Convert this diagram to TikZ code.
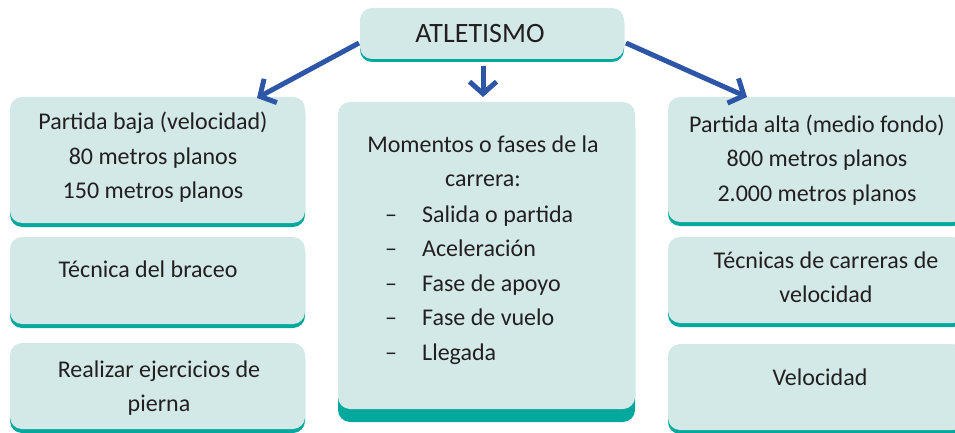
\documentclass[tikz,border=0pt]{standalone}
\usepackage{fontspec}
\setmainfont{Carlito}
\usetikzlibrary{arrows.meta,calc}
\definecolor{boxfill}{HTML}{D3E9E7}
\definecolor{band}{HTML}{05A89D}
\definecolor{arrowblue}{HTML}{2E56A6}
\definecolor{txt}{HTML}{231F20}
\begin{document}
\begin{tikzpicture}[x=1pt,y=-1pt,
  box/.style={rectangle, rounded corners=12pt, fill=boxfill, inner sep=0pt, draw=none,
    preaction={fill=band, transform canvas={yshift=-#1}}},
  box/.default=4pt,
  lbl/.style={anchor=base, inner sep=0pt, text=txt, font=\fontsize{24}{34.5}\selectfont},
  arr/.style={draw=arrowblue, line width=5pt, -{Straight Barb[length=12pt,width=27pt]}}]
\useasboundingbox (0,0) rectangle (955,433);
\clip (0,0) rectangle (955,433);
% boxes
\node[box=3pt, minimum width=264pt, minimum height=51pt] (top) at (492,33.5) {};
\node[box, minimum width=295pt, minimum height=126pt] (l1) at (157.5,160) {};
\node[box, minimum width=295pt, minimum height=87pt] (l2) at (157.5,280.5) {};
\node[box, minimum width=295pt, minimum height=86pt] (l3) at (157.5,386) {};
\node[box=13pt, minimum width=297pt, minimum height=307pt] (m) at (486.5,255.5) {};
\node[box, minimum width=297pt, minimum height=125pt] (r1) at (816.5,159.5) {};
\node[box, minimum width=297pt, minimum height=86pt] (r2) at (816.5,280) {};
\node[box, minimum width=297pt, minimum height=86pt] (r3) at (816.5,387) {};
% texts
\node[lbl, font=\fontsize{28}{34}\selectfont] (ttop) at (480,43) {ATLETISMO};
\node[lbl] (tl1) at (153,130) {\begin{tabular}[t]{@{}c@{}}Partida baja (velocidad)\\80 metros planos\\150 metros planos\end{tabular}};
\node[lbl] (tl2) at (148,277) {Técnica del braceo};
\node[lbl] (tl3) at (159,377) {\begin{tabular}[t]{@{}c@{}}Realizar ejercicios de\\pierna\end{tabular}};
\node[lbl] (tm) at (483,152) {\begin{tabular}[t]{@{}c@{}}Momentos o fases de la\\carrera:\end{tabular}};
\node[lbl, anchor=base west] (tlist) at (385,222) {\begin{tabular}[t]{@{}l@{}}%
\makebox[37pt][l]{–}Salida o partida\\
\makebox[37pt][l]{–}Aceleración\\
\makebox[37pt][l]{–}Fase de apoyo\\
\makebox[37pt][l]{–}Fase de vuelo\\
\makebox[37pt][l]{–}Llegada\end{tabular}};
\node[lbl] (tr1) at (817,132) {\begin{tabular}[t]{@{}c@{}}Partida alta (medio fondo)\\800 metros planos\\2.000 metros planos\end{tabular}};
\node[lbl] (tr2) at (826,268) {\begin{tabular}[t]{@{}c@{}}Técnicas de carreras de\\velocidad\end{tabular}};
\node[lbl] (tr3) at (820,385) {Velocidad};
% arrows
\coordinate (a1s) at (359,43);
\coordinate (a1e) at (257,98);
\coordinate (a2s) at (483,66);
\coordinate (a2e) at (483,97);
\coordinate (a3s) at (626,43);
\coordinate (a3e) at (747,97);
\draw[arr] (a1s) -- (a1e);
\draw[arr] (a2s) -- (a2e);
\draw[arr] (a3s) -- (a3e);
\end{tikzpicture}
\end{document}
